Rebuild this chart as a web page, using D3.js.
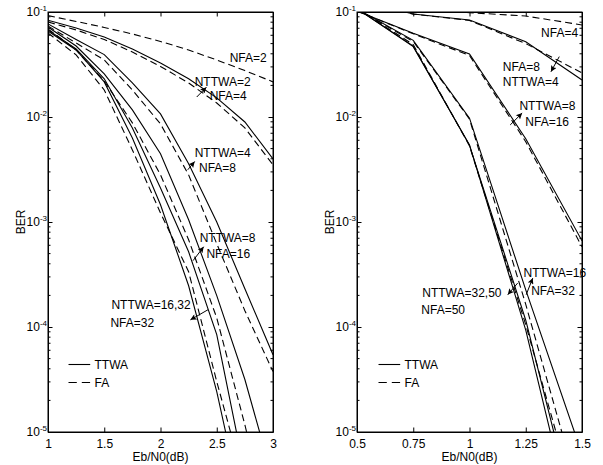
<!DOCTYPE html>
<html>
<head>
<meta charset="utf-8">
<script src="https://cdn.jsdelivr.net/npm/d3@7"></script>
<style>
  body { margin: 0; background: #fff; }
  text { font-family: "Liberation Sans", Arial, Helvetica, sans-serif; fill: #000; }
</style>
</head>
<body>
<div id="chart"></div>
<script>
// Eb/N0 grid (dB) of each panel
var ebnoLeft = [1, 1.25, 1.5, 1.75, 2, 2.25, 2.5, 2.75, 3];
var ebnoRight = [0.5, 0.75, 1, 1.25, 1.5];

// left panel BER
var leftNFA2 = [0.0923, 0.0813, 0.0713, 0.0618, 0.0524, 0.0435, 0.0349, 0.0277, 0.0216];
var leftNTTWA2 = [0.0834, 0.0705, 0.0578, 0.0445, 0.0327, 0.0231, 0.0152, 0.00897, 0.00399];
var leftNFA4 = [0.0804, 0.0675, 0.0547, 0.0416, 0.0303, 0.0211, 0.0136, 0.00787, 0.0035];
var leftNTTWA4 = [0.0769, 0.0547, 0.0393, 0.0211, 0.0107, 0.00358, 0.0010, 0.000231, 5.44e-5];
var leftNFA8 = [0.0736, 0.0507, 0.0349, 0.0181, 0.00859, 0.00281, 0.000621, 0.000143, 3.76e-5];
var leftNTTWA8 = [0.0719, 0.0474, 0.0257, 0.0117, 0.00446, 0.00105, 0.000199, 3.16e-5, 3.52e-6];
var leftNFA16 = [0.0689, 0.0435, 0.0220, 0.00879, 0.00281, 0.000678, 0.000122, 1.17e-5, 9.46e-7];
var leftNTTWA16 = [0.0675, 0.0445, 0.0231, 0.00787, 0.00211, 0.00052, 8.45e-5, 4.02e-6, 1.64e-7];
var leftNTTWA32 = [0.0659, 0.0435, 0.0216, 0.00632, 0.00146, 0.000247, 2.42e-5, 1.47e-6, 8.5e-8];
var leftNFA32 = [0.0631, 0.0390, 0.0181, 0.00486, 0.00122, 0.000336, 3.02e-5, 3.16e-6, 2.54e-7];

// right panel BER
var rightNFA4 = [0.118, 0.108, 0.0985, 0.0916, 0.0752];
var rightNTTWA4 = [0.13, 0.0957, 0.0839, 0.0521, 0.0225];
var rightNFA8 = [0.13, 0.0955, 0.083, 0.050, 0.0263];
var rightNTTWA8 = [0.102, 0.0627, 0.0398, 0.0062, 0.000662];
var rightNFA16 = [0.102, 0.062, 0.0385, 0.00582, 0.000581];
var rightNTTWA16 = [0.107, 0.0537, 0.00975, 0.000226, 6.17e-6];
var rightNFA32 = [0.107, 0.0525, 0.00955, 0.000164, 2.09e-6];
var rightNTTWA32 = [0.1076, 0.0468, 0.00543, 9.33e-5, 5.6e-7];
var rightNTTWA50 = [0.1076, 0.0473, 0.00537, 0.000116, 8.5e-7];
var rightNFA50 = [0.1076, 0.049, 0.00531, 0.000105, 1.32e-6];

// ticks
var xTicksLeft = [1, 1.5, 2, 2.5, 3];
var xTickLabelsLeft = ["1", "1.5", "2", "2.5", "3"];
var xTicksRight = [0.5, 0.75, 1, 1.25, 1.5];
var xTickLabelsRight = ["0.5", "0.75", "1", "1.25", "1.5"];
var yTicks = [1e-5, 1e-4, 1e-3, 1e-2, 1e-1];
var yTickExps = ["-5", "-4", "-3", "-2", "-1"];

// annotations (data coordinates)
var leftNotes = [
  {text: "NFA=2", x: 2.615, y: 0.0365},
  {text: "NTTWA=2", x: 2.304, y: 0.0217},
  {text: "NFA=4", x: 2.437, y: 0.016},
  {text: "NTTWA=4", x: 2.304, y: 0.00455},
  {text: "NFA=8", x: 2.342, y: 0.0033},
  {text: "NTTWA=8", x: 2.348, y: 0.000703},
  {text: "NFA=16", x: 2.408, y: 0.000498},
  {text: "NTTWA=16,32", x: 1.564, y: 0.000163},
  {text: "NFA=32", x: 1.555, y: 0.000109}
];
var leftArrows = [
  {x1: 2.322, y1: 0.0155, x2: 2.408, y2: 0.0192},
  {x1: 2.242, y1: 0.00314, x2: 2.304, y2: 0.00377},
  {x1: 2.289, y1: 0.000428, x2: 2.384, y2: 0.000581},
  {x1: 2.422, y1: 0.000146, x2: 2.266, y2: 0.000117}
];
var rightNotes = [
  {text: "NFA=4", x: 1.318, y: 0.0636},
  {text: "NFA=8", x: 1.148, y: 0.0302},
  {text: "NTTWA=4", x: 1.148, y: 0.0217},
  {text: "NTTWA=8", x: 1.222, y: 0.0128},
  {text: "NFA=16", x: 1.248, y: 0.00893},
  {text: "NTTWA=16", x: 1.24, y: 0.000331},
  {text: "NFA=32", x: 1.274, y: 0.000221},
  {text: "NTTWA=32,50", x: 0.79, y: 0.000211},
  {text: "NFA=50", x: 0.786, y: 0.000146}
];
var rightArrows = [
  {x1: 1.399, y1: 0.0376, x2: 1.362, y2: 0.027},
  {x1: 1.181, y1: 0.00841, x2: 1.234, y2: 0.0109},
  {x1: 1.252, y1: 0.000203, x2: 1.281, y2: 0.000292},
  {x1: 1.214, y1: 0.000262, x2: 1.17, y2: 0.000203}
];

var svgWidth = 603;
var svgHeight = 465;
var plotTop = 12;
var plotHeight = 420;
var plotWidth = 225;

var svg = d3.select("#chart")
  .append("svg")
  .attr("width", svgWidth)
  .attr("height", svgHeight);

var defs = svg.append("defs");
defs.append("marker")
  .attr("id", "arrowHead")
  .attr("viewBox", "0 0 10 10")
  .attr("refX", 10)
  .attr("refY", 5)
  .attr("markerUnits", "userSpaceOnUse")
  .attr("markerWidth", 8)
  .attr("markerHeight", 6)
  .attr("orient", "auto")
  .append("path")
  .attr("d", "M0,0L10,5L0,10L2,5z")
  .attr("fill", "#000");

function drawPanel(p) {
  var g = svg.append("g")
    .attr("transform", `translate(${p.left}, ${plotTop})`);

  var x = d3.scaleLinear().domain(p.xDomain).range([0, plotWidth]);
  var y = d3.scaleLog().domain([1e-5, 1e-1]).range([plotHeight, 0]);

  defs.append("clipPath")
    .attr("id", p.id)
    .append("rect")
    .attr("width", plotWidth)
    .attr("height", plotHeight);

  // curves
  var line = d3.line()
    .x(d => x(d[0]))
    .y(d => y(d[1]));

  g.append("g")
    .attr("clip-path", `url(#${p.id})`)
    .selectAll("path")
    .data(p.series)
    .enter()
    .append("path")
    .attr("d", s => line(p.ebno.map((e, i) => [e, s.values[i]])))
    .attr("fill", "none")
    .attr("stroke", "#000")
    .attr("stroke-width", 1.1)
    .attr("stroke-dasharray", s => s.dashed ? "7,4" : null);

  // axes, ticks pointing inward
  var axisFont = function(sel) {
    sel.attr("font-size", 12)
      .attr("font-family", '"Liberation Sans", Arial, sans-serif');
  };

  g.append("g")
    .attr("transform", `translate(0, ${plotHeight})`)
    .call(d3.axisBottom(x)
      .tickValues(p.xTicks)
      .tickFormat((d, i) => p.xTickLabels[i])
      .tickSize(-4.5)
      .tickSizeOuter(0)
      .tickPadding(7))
    .call(axisFont);

  g.append("g")
    .call(d3.axisTop(x).tickValues(p.xTicks).tickFormat("").tickSize(-4.5).tickSizeOuter(0));

  g.append("g")
    .call(d3.axisLeft(y).tickValues(yTicks).tickFormat("").tickSize(-4.5).tickSizeOuter(0));

  g.append("g")
    .attr("transform", `translate(${plotWidth}, 0)`)
    .call(d3.axisRight(y).tickValues(yTicks).tickFormat("").tickSize(-4.5).tickSizeOuter(0));

  // minor log ticks
  var minor = y.ticks().filter(v => Math.abs(Math.log10(v) - Math.round(Math.log10(v))) > 1e-6);
  g.append("g")
    .selectAll("line")
    .data(minor)
    .enter()
    .append("line")
    .attr("x1", 0).attr("x2", 2.5)
    .attr("y1", d => y(d)).attr("y2", d => y(d))
    .attr("stroke", "#000");
  g.append("g")
    .selectAll("line")
    .data(minor)
    .enter()
    .append("line")
    .attr("x1", plotWidth).attr("x2", plotWidth - 2.5)
    .attr("y1", d => y(d)).attr("y2", d => y(d))
    .attr("stroke", "#000");

  // box
  g.append("rect")
    .attr("width", plotWidth)
    .attr("height", plotHeight)
    .attr("fill", "none")
    .attr("stroke", "#000")
    .attr("stroke-width", 1);

  // y tick labels 10^k
  var yl = g.append("g")
    .selectAll("text")
    .data(yTicks)
    .enter()
    .append("text")
    .attr("x", -1)
    .attr("y", d => y(d))
    .attr("dy", "0.35em")
    .attr("text-anchor", "end")
    .attr("font-size", 12);
  yl.append("tspan").text("10");
  yl.append("tspan")
    .attr("dy", -5)
    .attr("font-size", 8)
    .text((d, i) => yTickExps[i]);

  // axis titles
  g.append("text")
    .attr("transform", `translate(-23.5, ${plotHeight / 2}) rotate(-90)`)
    .attr("text-anchor", "middle")
    .attr("font-size", 12)
    .text("BER");

  g.append("text")
    .attr("x", plotWidth / 2)
    .attr("y", plotHeight + 29)
    .attr("text-anchor", "middle")
    .attr("font-size", 12)
    .text("Eb/N0(dB)");

  // curve labels
  g.append("g")
    .selectAll("text")
    .data(p.notes)
    .enter()
    .append("text")
    .attr("x", d => x(d.x))
    .attr("y", d => y(d.y))
    .attr("dy", "0.35em")
    .attr("font-size", 12)
    .text(d => d.text);

  g.append("g")
    .selectAll("line")
    .data(p.arrows)
    .enter()
    .append("line")
    .attr("x1", d => x(d.x1)).attr("y1", d => y(d.y1))
    .attr("x2", d => x(d.x2)).attr("y2", d => y(d.y2))
    .attr("stroke", "#000")
    .attr("stroke-width", 1)
    .attr("marker-end", "url(#arrowHead)");

  // legend
  var legendItems = [{name: "TTWA", dashed: false}, {name: "FA", dashed: true}];
  var lg = g.append("g")
    .attr("transform", `translate(${p.legendX}, 352.5)`);
  lg.selectAll("line")
    .data(legendItems)
    .enter()
    .append("line")
    .attr("x1", 0).attr("x2", 21.7)
    .attr("y1", (d, i) => i * 18).attr("y2", (d, i) => i * 18)
    .attr("stroke", "#000")
    .attr("stroke-width", 1.1)
    .attr("stroke-dasharray", d => d.dashed ? "8.3,5" : null);
  lg.selectAll("text")
    .data(legendItems)
    .enter()
    .append("text")
    .attr("x", 26)
    .attr("y", (d, i) => i * 18)
    .attr("dy", "0.35em")
    .attr("font-size", 12)
    .text(d => d.name);
}

drawPanel({
  id: "clipLeft",
  left: 48,
  xDomain: [1, 3],
  ebno: ebnoLeft,
  xTicks: xTicksLeft,
  xTickLabels: xTickLabelsLeft,
  series: [
    {values: leftNFA2, dashed: true},
    {values: leftNTTWA2, dashed: false},
    {values: leftNFA4, dashed: true},
    {values: leftNTTWA4, dashed: false},
    {values: leftNFA8, dashed: true},
    {values: leftNTTWA8, dashed: false},
    {values: leftNFA16, dashed: true},
    {values: leftNTTWA16, dashed: false},
    {values: leftNTTWA32, dashed: false},
    {values: leftNFA32, dashed: true}
  ],
  notes: leftNotes,
  arrows: leftArrows,
  legendX: 20.5
});

drawPanel({
  id: "clipRight",
  left: 357,
  xDomain: [0.5, 1.5],
  ebno: ebnoRight,
  xTicks: xTicksRight,
  xTickLabels: xTickLabelsRight,
  series: [
    {values: rightNFA4, dashed: true},
    {values: rightNTTWA4, dashed: false},
    {values: rightNFA8, dashed: true},
    {values: rightNTTWA8, dashed: false},
    {values: rightNFA16, dashed: true},
    {values: rightNTTWA16, dashed: false},
    {values: rightNFA32, dashed: true},
    {values: rightNTTWA32, dashed: false},
    {values: rightNTTWA50, dashed: false},
    {values: rightNFA50, dashed: true}
  ],
  notes: rightNotes,
  arrows: rightArrows,
  legendX: 21.5
});
</script>
</body>
</html>
